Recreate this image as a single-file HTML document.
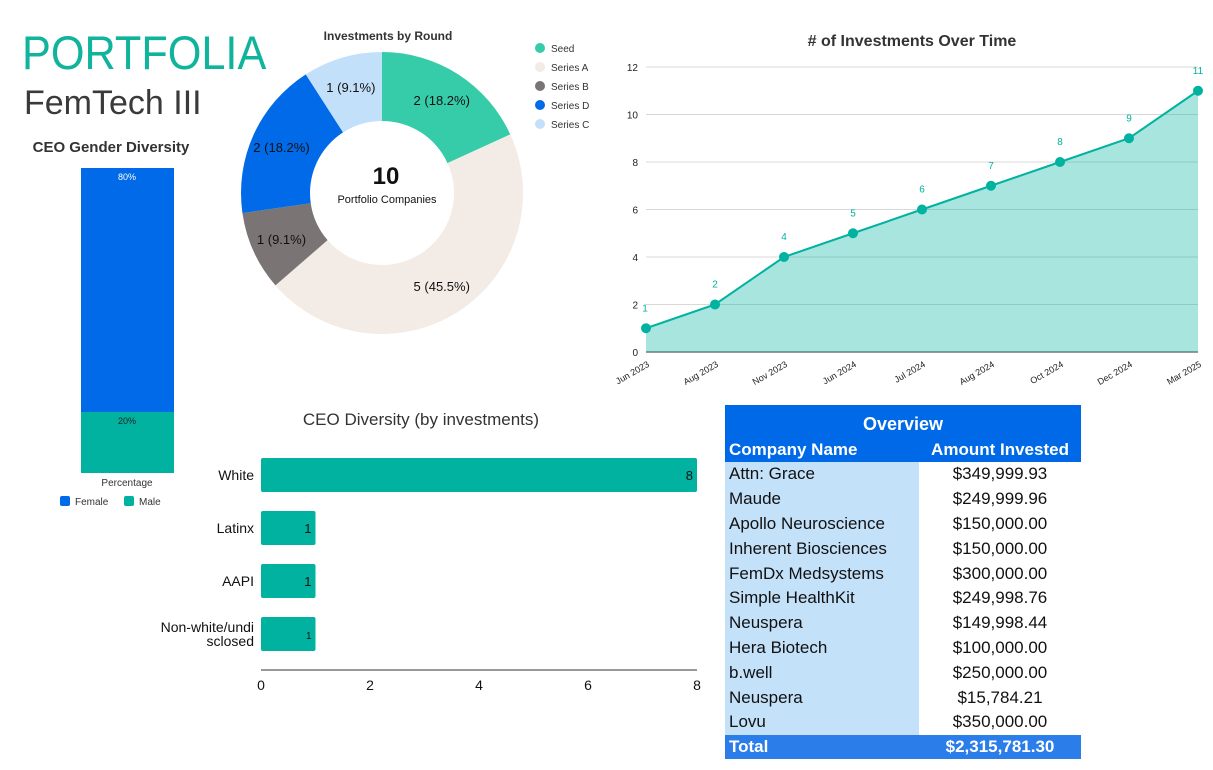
<!DOCTYPE html>
<html><head><meta charset="utf-8"><style>
body{margin:0;width:1213px;height:770px;background:#fff;font-family:"Liberation Sans",sans-serif;position:relative;overflow:hidden}
.abs{position:absolute}
svg text{font-family:"Liberation Sans",sans-serif}
table{border-collapse:collapse}
</style></head><body>
<div class="abs" style="left:22px;top:28px;font-size:47px;color:#10b39c;line-height:50px;transform:scaleX(0.92);transform-origin:left top">PORTFOLIA</div>
<div class="abs" style="left:24px;top:84px;font-size:34px;color:#3a3a3a;line-height:38px">FemTech III</div>

<svg class="abs" style="left:0;top:0" width="1213" height="770">
<g id="gender"></g>
<g id="donut"></g>
<g id="line"></g>
<g id="hbar"></g>
</svg>

<table class="abs" style="left:725px;top:405px;width:356px;font-size:17px;color:#111">
<tr style="background:#0069e8;color:#fff;height:33px"><td colspan="2" style="text-align:center;font-weight:bold;font-size:18px;padding-top:6px">Overview</td></tr>
<tr style="background:#0069e8;color:#fff;height:24px;font-weight:bold;font-size:17px"><td style="padding:0 4px;width:186px">Company Name</td><td style="text-align:center">Amount Invested</td></tr>
<tbody id="tb"></tbody>
<tr style="background:#2b7de9;color:#fff;height:24px;font-weight:bold"><td style="padding:0 4px">Total</td><td style="text-align:center">$2,315,781.30</td></tr>
</table>

<script>
const NS='http://www.w3.org/2000/svg';
function mk(p,t,a,txt){const e=document.createElementNS(NS,t);for(const k in a)e.setAttribute(k,a[k]);if(txt!==undefined)e.textContent=txt;p.appendChild(e);return e;}

// Gender chart
const genderCats=['Female','Male'];
const genderVals=[80,20];
const genderColors=['#006ae8','#00b29f'];
{const g=document.getElementById('gender');
mk(g,'text',{x:111,y:152,'text-anchor':'middle','font-size':15,'font-weight':'bold',fill:'#333'},'CEO Gender Diversity');
const top=168,bot=473,h=bot-top;let y=top;
genderVals.forEach((v,i)=>{const bh=v/100*h;
const r=mk(g,'rect',{x:81,y:y,width:93,height:bh,fill:genderColors[i]});


mk(g,'text',{x:127,y:y+12,'text-anchor':'middle','font-size':9,fill:i?'#222':'#fff'},v+'%');y+=bh;});
mk(g,'text',{x:127,y:486,'text-anchor':'middle','font-size':10,fill:'#333'},'Percentage');
genderCats.forEach((c,i)=>{const lx=60+i*64;mk(g,'rect',{x:lx,y:496,width:10,height:10,rx:2,fill:genderColors[i]});
const t=mk(g,'text',{x:lx+15,y:505,'font-size':10,fill:'#333'},c);});}

// Donut
const roundCats=['Seed','Series A','Series B','Series D','Series C'];
const roundVals=[2,5,1,2,1];
const roundColors=['#36ccaa','#f3ebe6','#7a7474','#006ae8','#c3e0fa'];
{const g=document.getElementById('donut');const cx=382,cy=193,R=141,r=72;
mk(g,'text',{x:388,y:40,'text-anchor':'middle','font-size':12,'font-weight':'bold',fill:'#333'},'Investments by Round');
const tot=roundVals.reduce((a,b)=>a+b,0);let a0=-Math.PI/2;
roundVals.forEach((v,i)=>{const a1=a0+v/tot*2*Math.PI;const L=(a1-a0)>Math.PI?1:0;
const p=(rad,a)=>[cx+rad*Math.cos(a),cy+rad*Math.sin(a)];
const [x1,y1]=p(R,a0),[x2,y2]=p(R,a1),[x3,y3]=p(r,a1),[x4,y4]=p(r,a0);
const s=mk(g,'path',{d:`M${x1},${y1}A${R},${R} 0 ${L} 1 ${x2},${y2}L${x3},${y3}A${r},${r} 0 ${L} 0 ${x4},${y4}Z`,fill:roundColors[i]});


const am=(a0+a1)/2,[lx,ly]=p((R+r)/2+4,am);
mk(g,'text',{x:lx,y:ly+5,'text-anchor':'middle','font-size':13,fill:'#111'},v+' ('+(v/tot*100).toFixed(1)+'%)');
a0=a1;
mk(g,'circle',{cx:540,cy:48+i*19,r:5,fill:roundColors[i]});
mk(g,'text',{x:551,y:52+i*19,'font-size':10,fill:'#333'},roundCats[i]);});
mk(g,'text',{x:386,y:184,'text-anchor':'middle','font-size':24,'font-weight':'bold',fill:'#111'},'10');
mk(g,'text',{x:387,y:203,'text-anchor':'middle','font-size':11,fill:'#111'},'Portfolio Companies');}

// Line
const months=['Jun 2023','Aug 2023','Nov 2023','Jun 2024','Jul 2024','Aug 2024','Oct 2024','Dec 2024','Mar 2025'];
const counts=[1,2,4,5,6,7,8,9,11];
const yTicks=[0,2,4,6,8,10,12];
{const g=document.getElementById('line');const x0=646,x1=1198,y0=352,ymax=12,yTop=67;
const X=i=>x0+i*(x1-x0)/(months.length-1),Y=v=>y0-v/ymax*(y0-yTop);
mk(g,'text',{x:912,y:46,'text-anchor':'middle','font-size':16,'font-weight':'bold',fill:'#333'},'# of Investments Over Time');
yTicks.forEach(t=>{mk(g,'line',{x1:x0,x2:x1,y1:Y(t),y2:Y(t),stroke:t?'#d8d8d8':'#333','stroke-width':1});
mk(g,'text',{x:638,y:Y(t)+4,'text-anchor':'end','font-size':10,fill:'#222'},t);});
let d='',pts=counts.map((v,i)=>[X(i),Y(v)]);pts.forEach((p,i)=>d+=(i?'L':'M')+p[0]+','+p[1]);
const a=mk(g,'path',{d:d+`L${x1},${y0}L${x0},${y0}Z`,fill:'#00b29f','fill-opacity':0.34});
const l=mk(g,'path',{d:d,fill:'none',stroke:'#00b29f','stroke-width':2});
pts.forEach((p,i)=>{const c=mk(g,'circle',{cx:p[0],cy:p[1],r:5,fill:'#00b29f'});
mk(g,'text',{x:p[0]+(i==0?-1:0),y:p[1]-17,'text-anchor':'middle','font-size':10,fill:'#00b29f'},counts[i]);
mk(g,'text',{x:p[0]+4,y:y0+14,'text-anchor':'end','font-size':9,fill:'#222',transform:`rotate(-30 ${p[0]+4} ${y0+14})`},months[i]);});}

// Horizontal bars
const divCats=['White','Latinx','AAPI','Non-white/undi|sclosed'];
const divVals=[8,1,1,1];
const xTicks=[0,2,4,6,8];
{const g=document.getElementById('hbar');const x0=261,x8=697,X=v=>x0+v/8*(x8-x0);
mk(g,'text',{x:421,y:425,'text-anchor':'middle','font-size':17,fill:'#333'},'CEO Diversity (by investments)');
divVals.forEach((v,i)=>{const yc=475+i*53;
const b=mk(g,'rect',{x:x0,y:yc-17,width:X(v)-x0,height:34,rx:2,fill:'#00b29f'});

mk(g,'text',{x:X(v)-4,y:yc+5,'text-anchor':'end','font-size':i==3?10:13,fill:'#111'},v);
const parts=divCats[i].split('|');parts.forEach((p,j)=>mk(g,'text',{x:254,y:yc+5+(j-(parts.length-1)/2)*14,'text-anchor':'end','font-size':14,fill:'#111'},p));});
mk(g,'line',{x1:x0,x2:x8,y1:670,y2:670,stroke:'#333'});
xTicks.forEach(t=>mk(g,'text',{x:X(t),y:690,'text-anchor':'middle','font-size':14,fill:'#111'},t));}

// Table
const companies=['Attn: Grace','Maude','Apollo Neuroscience','Inherent Biosciences','FemDx Medsystems','Simple HealthKit','Neuspera','Hera Biotech','b.well','Neuspera','Lovu'];
const amounts=['$349,999.93','$249,999.96','$150,000.00','$150,000.00','$300,000.00','$249,998.76','$149,998.44','$100,000.00','$250,000.00','$15,784.21','$350,000.00'];
{const tb=document.getElementById('tb');companies.forEach((c,i)=>{const tr=document.createElement('tr');tr.style.height='24.8px';


tr.innerHTML=`<td style="background:#c4e1fa;padding:0 4px">${c}</td><td style="text-align:center">${amounts[i]}</td>`;tb.appendChild(tr);});}
</script>
</body></html>
